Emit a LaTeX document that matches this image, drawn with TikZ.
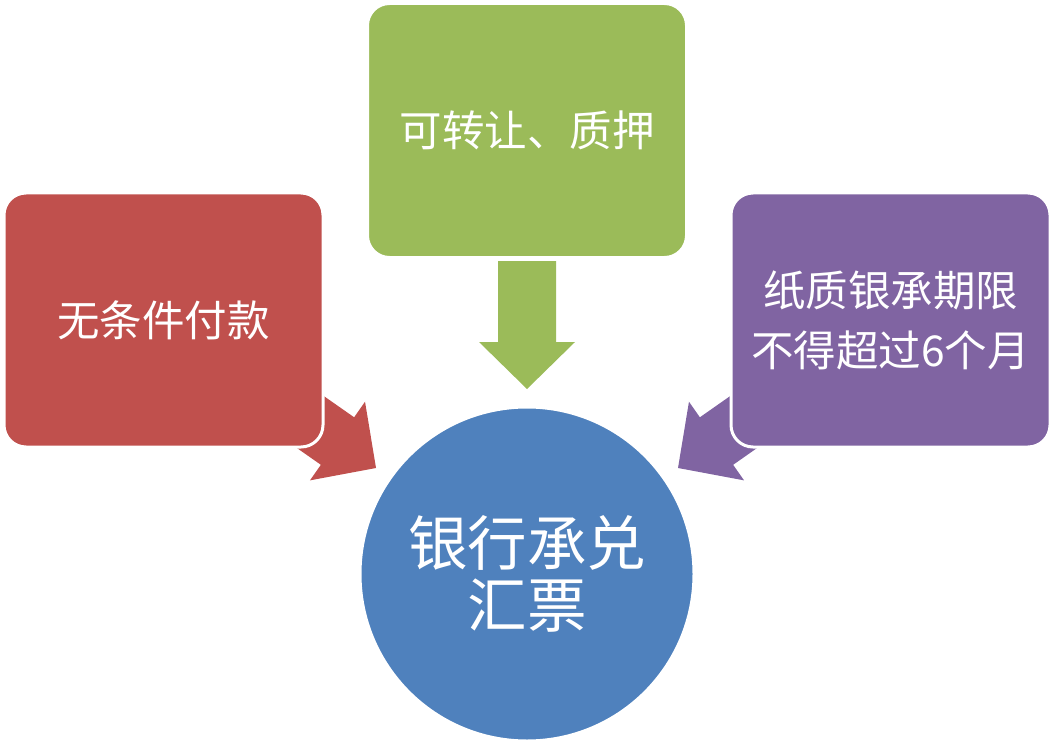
\documentclass[tikz,border=0pt]{standalone}
\usepackage{fontspec}
\newfontfamily\cjk{Noto Sans CJK SC}
\definecolor{cred}{HTML}{C0504D}
\definecolor{cgreen}{HTML}{9BBB59}
\definecolor{cpurple}{HTML}{8064A2}
\definecolor{cblue}{HTML}{4F81BD}
\tikzset{
  box/.style={rectangle, rounded corners=22pt, minimum width=319pt, minimum height=254pt,
    draw=white, line width=3pt, text=white, align=center, inner sep=0pt,
    font=\cjk\fontsize{42.5}{60}\selectfont},
  hub/.style={circle, minimum size=334pt, draw=white, line width=3pt, fill=cblue,
    text=white, align=center, inner sep=0pt, font=\cjk\fontsize{59.5}{62}\selectfont},
  blockarrow/.pic={\fill[pic actions] (-128,-29) -- (-47,-29) -- (-47,-48) -- (0,0) -- (-47,48) -- (-47,29) -- (-128,29) -- cycle;}
}
\begin{document}
\begin{tikzpicture}[x=1pt,y=-1pt]
\useasboundingbox (0,0) rectangle (1054,746);
% block arrows (behind the boxes)
\coordinate (tipG) at (527,389);
\coordinate (tipR) at (376,468);
\coordinate (tipP) at (678,468);
\pic[fill=cgreen, rotate=-90] at (tipG) {blockarrow};
\pic[fill=cred, rotate=-35] at (tipR) {blockarrow};
\pic[fill=cpurple, rotate=-145] at (tipP) {blockarrow};
% boxes
\node[box, fill=cred] (pay) at (163.5,320) {无条件付款};
\node[box, fill=cgreen] (transfer) at (527,130.5) {可转让、质押};
\node[box, fill=cpurple] (term) at (890.5,320) {纸质银承期限\\不得超过6个月};
% hub
\node[hub] (hub) at (527,574) {银行承兑\\汇票};
\end{tikzpicture}
\end{document}
